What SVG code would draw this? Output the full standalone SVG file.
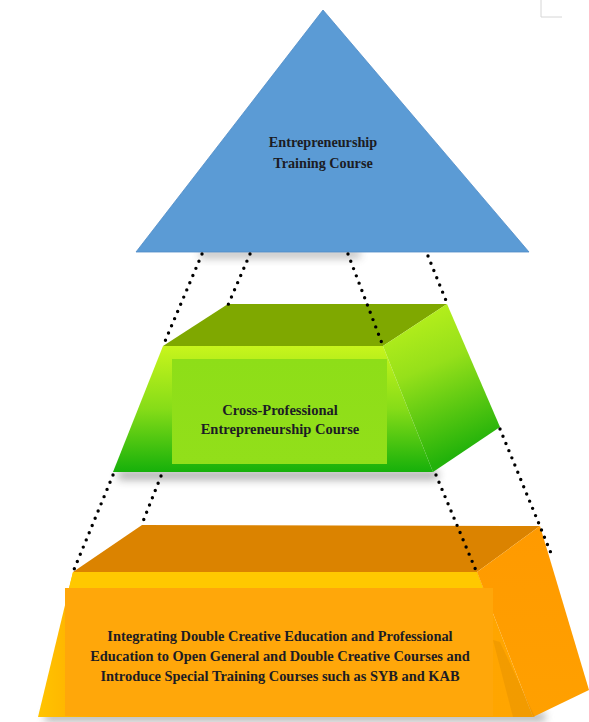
<svg xmlns="http://www.w3.org/2000/svg" width="589" height="722" viewBox="0 0 589 722">
<defs>
<style>
.lbl{font-family:"Liberation Serif","Times New Roman",serif;font-weight:bold;fill:#1c1c24;text-anchor:middle}
.dots{fill:none;stroke:#000;stroke-width:3.4;stroke-linecap:round;stroke-dasharray:0 7.8}
</style>
<filter id="blur" x="-20%" y="-100%" width="140%" height="300%"><feGaussianBlur stdDeviation="4"/></filter>
<linearGradient id="gFront" x1="0" y1="0" x2="0" y2="1">
<stop offset="0" stop-color="#c8f51c"/><stop offset="0.5" stop-color="#86dc18"/><stop offset="1" stop-color="#16b00a"/>
</linearGradient>
<linearGradient id="gSide" x1="0" y1="0" x2="0.3" y2="1">
<stop offset="0" stop-color="#c2f51c"/><stop offset="0.45" stop-color="#96e01a"/><stop offset="1" stop-color="#22b20a"/>
</linearGradient>
<linearGradient id="gLabel" x1="0" y1="0" x2="0" y2="1">
<stop offset="0" stop-color="#8ede18"/><stop offset="1" stop-color="#92df1a"/>
</linearGradient>
<linearGradient id="oFront" x1="0" y1="0" x2="1" y2="0">
<stop offset="0" stop-color="#ffc400"/><stop offset="0.12" stop-color="#ffa800"/><stop offset="1" stop-color="#ffa500"/>
</linearGradient>
<linearGradient id="oSide" x1="0" y1="0" x2="0" y2="1">
<stop offset="0" stop-color="#ff9a00"/><stop offset="1" stop-color="#ffa000"/>
</linearGradient>
</defs>
<rect width="589" height="722" fill="#ffffff"/>
<polyline points="541,0 541,17 562,17" fill="none" stroke="#d6d6d6" stroke-width="1"/>

<g id="tier-bottom">
<rect x="45" y="712" width="500" height="10" fill="#7a7a7a" opacity="0.55" filter="url(#blur)"/>
<polygon points="142,525 540,526 477,572 73,572" fill="#db8300"/>
<polygon points="73,572 477,572 533,717 38,717" fill="url(#oFront)"/>
<polygon points="73,572 477,572 483,588 69,588" fill="#ffc800"/>
<polygon points="477,572 540,526 589,690 533,717" fill="url(#oSide)"/>
<polygon points="493,640 500,642 535,717 513,717" fill="#d98a00" opacity="0.35"/>
<rect x="65" y="588" width="428" height="128" fill="#ffa70a"/>
<text class="lbl" font-size="14.4" x="280" y="641">Integrating Double Creative Education and Professional</text>
<text class="lbl" font-size="14.4" x="280" y="661">Education to Open General and Double Creative Courses and</text>
<text class="lbl" font-size="14.4" x="280" y="681">Introduce Special Training Courses such as SYB and KAB</text>
</g>

<g id="tier-middle">
<rect x="118" y="470" width="320" height="10" fill="#555" opacity="0.45" filter="url(#blur)"/>
<polygon points="228,304 447,304 383,346 163,346" fill="#7fa800"/>
<polygon points="163,346 383,346 433,472 113,472" fill="url(#gFront)"/>
<polygon points="383,346 447,304 500,427 433,472" fill="url(#gSide)"/>
<rect x="172" y="359" width="215" height="105" fill="url(#gLabel)"/>
<text class="lbl" font-size="14.5" x="280" y="415">Cross-Professional</text>
<text class="lbl" font-size="14.5" x="280" y="434">Entrepreneurship Course</text>
</g>

<g id="tier-top">
<rect x="200" y="250" width="160" height="8" fill="#555" opacity="0.4" filter="url(#blur)"/>
<polygon points="323,10 529,252 136,252" fill="#5b9bd5" stroke="#4f8cc6" stroke-width="0.8"/>
<text class="lbl" font-size="14.2" x="323" y="147">Entrepreneurship</text>
<text class="lbl" font-size="14.2" x="323" y="168">Training Course</text>
</g>

<g id="connectors">
<line class="dots" x1="202" y1="254" x2="163" y2="346"/>
<line class="dots" x1="250" y1="254" x2="228" y2="305"/>
<line class="dots" x1="348" y1="254" x2="383" y2="346"/>
<line class="dots" x1="428" y1="256" x2="447" y2="303"/>
<line class="dots" x1="113" y1="475" x2="73" y2="572"/>
<line class="dots" x1="161" y1="476" x2="142" y2="524"/>
<line class="dots" x1="436" y1="475" x2="477" y2="573"/>
<line class="dots" x1="500" y1="429" x2="553" y2="558"/>
</g>
</svg>
